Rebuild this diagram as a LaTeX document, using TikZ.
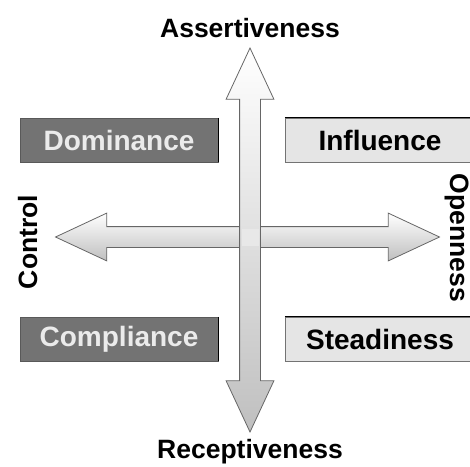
\documentclass[tikz,border=0pt]{standalone}
\usepackage{fontspec}
\setmainfont{Liberation Sans}
\usetikzlibrary{shapes.arrows,positioning}
\begin{document}
\begin{tikzpicture}[x=1pt, y=-1pt, font=\fontsize{26.5}{30}\selectfont\bfseries,
  dark/.style = {draw=black!65, fill=black!55, text=black!8, minimum width=198pt, minimum height=44pt, inner sep=0pt, font=\fontsize{28}{32}\selectfont\bfseries},
  light/.style = {draw=black!55, fill=black!10, text=black, minimum width=190pt, minimum height=44pt, inner sep=0pt, font=\fontsize{28}{32}\selectfont\bfseries},
  axis/.style = {double arrow, draw=black!60, thick, top color=white, bottom color=black!25,
    minimum height=384pt, inner xsep=0pt, inner ysep=10pt, double arrow head extend=13.5pt, double arrow tip angle=50}]
  \useasboundingbox (0,0) rectangle (470,466);
  % the two axes
  \node[axis] (haxis) at (247.5,237) {};
  \node[axis, rotate=-90] (vaxis) at (250,240) {};
  \fill[black!9] (241.5,228.5) rectangle (258.5,245.5);
  % quadrants
  \node[dark] (dom) at (119,140) {Dominance};
  \node[light] (infl) at (380,140) {Influence};
  \node[dark] (compl) at (119,339) {Compliance};
  \node[light] (stead) at (380,339) {Steadiness};
  \draw[black, very thick] (dom.north east) -- (dom.south east);
  \draw[black, very thick] (compl.north east) -- (compl.south east);
  \draw[black, very thick] (infl.north west) -- (infl.north east);
  \draw[black, very thick] (stead.north west) -- (stead.north east);
  % axis labels
  \node[anchor=base] (assert) at (250,37) {Assertiveness};
  \node[anchor=base] (recept) at (250,458) {Receptiveness};
  \node[anchor=base, rotate=90] (control) at (37,242) {Control};
  \node[anchor=base, rotate=-90] (open) at (450,238) {Openness};
\end{tikzpicture}
\end{document}
